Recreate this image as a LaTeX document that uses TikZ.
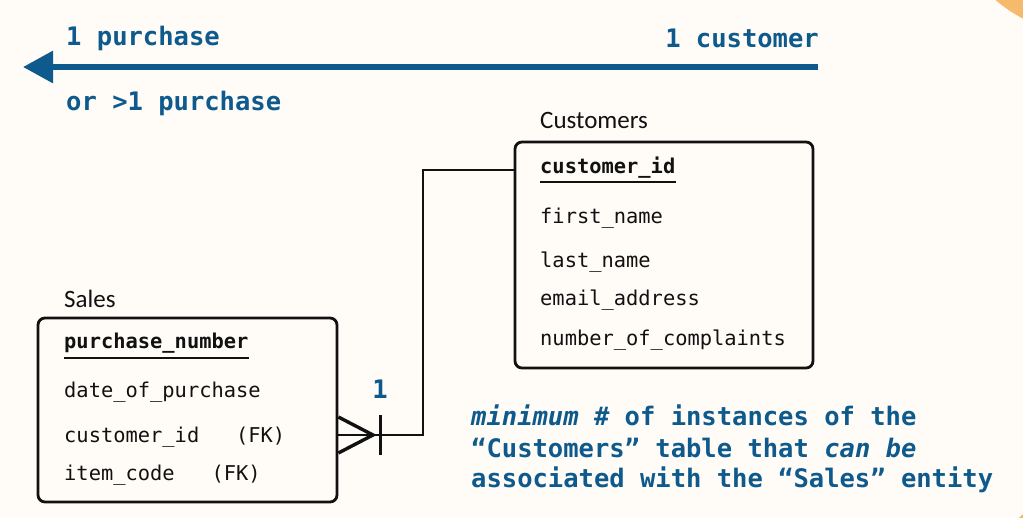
\documentclass[tikz,border=0pt]{standalone}
\usepackage{fontspec}
\setmonofont{DejaVu Sans Mono}
\newfontfamily\labfont{Carlito}
\usetikzlibrary{arrows.meta}
\definecolor{bg}{HTML}{FFFCF8}
\definecolor{accent}{HTML}{F5BA6B}
\definecolor{navy}{HTML}{0E5A8C}
\definecolor{ink}{HTML}{111111}
\tikzset{
  bigtxt/.style={anchor=base west,inner sep=0pt,text=navy,font=\ttfamily\bfseries\fontsize{25.5}{30}\selectfont},
  rowtxt/.style={anchor=base west,inner sep=0pt,text=ink,font=\ttfamily\fontsize{20.4}{24}\selectfont},
  keytxt/.style={rowtxt,font=\ttfamily\bfseries\fontsize{20.4}{24}\selectfont},
  tbltitle/.style={anchor=base west,inner sep=0pt,text=ink,font=\labfont\fontsize{25}{30}\selectfont},
  tblbox/.style={draw=ink,line width=2.8pt,rounded corners=7pt,inner sep=0pt},
  conn/.style={draw=ink,line width=2.5pt},
  crow/.style={draw=ink,line width=3.4pt},
  uline/.style={draw=ink,line width=2.6pt},
}
\begin{document}
\begin{tikzpicture}[x=1pt,y=-1pt]
\useasboundingbox (0,0) rectangle (1023,517);
\begin{scope}
\clip (0,0) rectangle (1023,517);
\fill[bg] (0,0) rectangle (1023,517);
\fill[accent] (1090,-110) circle (145);
\fill[accent] (1070,570) circle (73);
\end{scope}

% top arrow and labels
\coordinate (astart) at (818,67);
\coordinate (aend) at (23,67);
\draw[navy,line width=6pt,-{Triangle[length=30pt,width=31pt]}] (astart) -- (aend);
\node[bigtxt] (p1) at (66,45) {1 purchase};
\node[bigtxt,anchor=base east] (c1) at (819,47) {1 customer};
\node[bigtxt] (p2) at (66,110) {or >1 purchase};

% Customers table
\node[tbltitle] (ctitle) at (540,128) {Customers};
\node[tblbox,minimum width=298pt,minimum height=226pt] (cbox) at (664,255) {};
\node[keytxt] (cid) at (540,173) {customer\_id};
\draw[uline] ([yshift=-9pt]cid.base west) -- ([yshift=-9pt]cid.base east);
\node[rowtxt] (cfn) at (540,223) {first\_name};
\node[rowtxt] (cln) at (540,267) {last\_name};
\node[rowtxt] (cem) at (540,305) {email\_address};
\node[rowtxt] (cnc) at (540,345) {number\_of\_complaints};

% Sales table
\node[tbltitle] (stitle) at (64,307) {Sales};
\node[tblbox,minimum width=299pt,minimum height=184pt] (sbox) at (187.5,410) {};
\node[keytxt] (spn) at (64,348) {purchase\_number};
\draw[uline] ([yshift=-10pt]spn.base west) -- ([yshift=-10pt]spn.base east);
\node[rowtxt] (sdp) at (64,397) {date\_of\_purchase};
\node[rowtxt] (scf) at (64,442) {customer\_id\ \ \ (FK)};
\node[rowtxt] (sic) at (64,480) {item\_code\ \ \ (FK)};

% relationship connector
\coordinate (tip) at (373,435);
\draw[conn] (cbox.west |- 0,170) -| (423,435) -- (sbox.east |- 0,435);
\draw[crow] (sbox.east |- 0,417) -- (tip) -- (sbox.east |- 0,453);
\draw[crow,line width=3pt] (380,415) -- (380,455);
\node[bigtxt,anchor=base] (one) at (380,398) {1};

% annotation
\node[bigtxt] (n1) at (471,425) {\textit{minimum} \# of instances of the};
\node[bigtxt] (n2) at (471,457) {“Customers” table that \textit{can be}};
\node[bigtxt] (n3) at (471,487) {associated with the “Sales” entity};
\end{tikzpicture}
\end{document}
